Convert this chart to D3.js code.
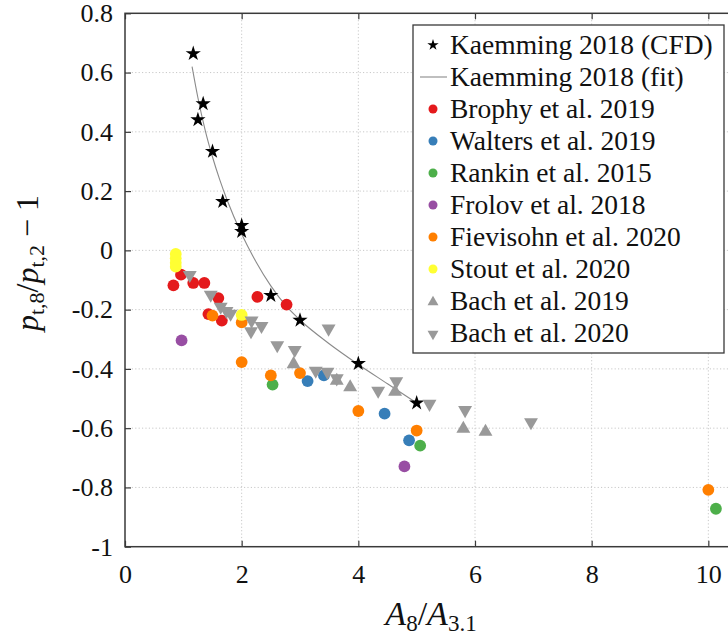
<!DOCTYPE html>
<html>
<head>
<meta charset="utf-8">
<script src="https://cdn.jsdelivr.net/npm/d3@7"></script>
<style>
  body { margin: 0; background: #fff; }
  svg { display: block; }
  text { font-family: "Liberation Serif", "DejaVu Serif", serif; fill: #111; }
</style>
</head>
<body>
<svg id="chart" width="728" height="638"></svg>
<script>
// Area ratio A8/A3.1 (x) against total-pressure ratio p_t,8/p_t,2 - 1 (y)

const xTicks = [0, 2, 4, 6, 8, 10];
const xTickLabels = ["0", "2", "4", "6", "8", "10"];
const yTicks = [-1, -0.8, -0.6, -0.4, -0.2, 0, 0.2, 0.4, 0.6, 0.8];
const yTickLabels = ["-1", "-0.8", "-0.6", "-0.4", "-0.2", "0", "0.2", "0.4", "0.6", "0.8"];

// Kaemming 2018 (CFD)
const kaemCfdX = [1.17, 1.25, 1.34, 1.50, 1.675, 2.0, 2.0, 2.5, 3.0, 4.0, 5.0];
const kaemCfdY = [0.664, 0.441, 0.495, 0.334, 0.165, 0.084, 0.064, -0.152, -0.236, -0.382, -0.515];

// Kaemming 2018 (fit)
const kaemFitX = [1.15, 1.25, 1.375, 1.5, 1.625, 1.75, 2.0, 2.25, 2.5, 2.75, 3.0, 3.5, 4.0, 4.5, 5.0];
const kaemFitY = [0.62, 0.515, 0.405, 0.315, 0.238, 0.17, 0.055, -0.04, -0.12, -0.185, -0.235, -0.315, -0.385, -0.45, -0.515];

const brophyX = [0.83, 0.96, 1.17, 1.36, 1.43, 1.60, 1.66, 2.27, 2.77];
const brophyY = [-0.118, -0.082, -0.110, -0.110, -0.215, -0.161, -0.237, -0.157, -0.183];

const waltersX = [3.13, 3.41, 4.45, 4.87];
const waltersY = [-0.441, -0.422, -0.551, -0.641];

const rankinX = [2.53, 5.06, 10.13];
const rankinY = [-0.453, -0.659, -0.872];

const frolovX = [0.97, 4.79];
const frolovY = [-0.304, -0.729];

const fievisohnX = [1.50, 2.0, 2.0, 2.5, 3.0, 4.0, 5.0, 10.0];
const fievisohnY = [-0.220, -0.243, -0.377, -0.422, -0.414, -0.542, -0.608, -0.808];

const stoutX = [0.87, 0.87, 0.87, 0.87, 2.0];
const stoutY = [-0.012, -0.027, -0.042, -0.055, -0.218];

const bach2019X = [2.89, 3.63, 3.86, 4.63, 5.80, 6.18];
const bach2019Y = [-0.384, -0.440, -0.462, -0.477, -0.602, -0.612];

const bach2020X = [1.11, 1.47, 1.64, 1.74, 1.81, 2.17, 2.34, 2.16, 2.61, 2.91, 3.49, 3.27, 3.47, 3.63, 4.34, 4.65, 5.22, 5.83, 6.96];
const bach2020Y = [-0.083, -0.150, -0.190, -0.205, -0.214, -0.237, -0.255, -0.273, -0.320, -0.336, -0.264, -0.406, -0.410, -0.432, -0.474, -0.442, -0.518, -0.539, -0.580];

const zip = (xs, ys) => xs.map((v, i) => [v, ys[i]]);

const svg = d3.select("#chart");
svg.append("rect").attr("width", 728).attr("height", 638).attr("fill", "#fff");

const plotLeft = 125, plotRight = 737.5, plotTop = 13.3, plotBottom = 546.7;
const x = d3.scaleLinear().domain([0, 10.5]).range([plotLeft, plotRight]);
const y = d3.scaleLinear().domain([-1, 0.8]).range([plotBottom, plotTop]);

// dotted grid
const grid = svg.append("g").attr("stroke", "#c8c8c8").attr("stroke-width", 1).attr("stroke-dasharray", "1.2,2.2");
grid.selectAll("line.gx").data(xTicks.filter(v => v > 0)).join("line")
  .attr("x1", d => x(d)).attr("x2", d => x(d)).attr("y1", plotTop).attr("y2", plotBottom);
grid.selectAll("line.gy").data(yTicks.filter(v => v > -1 && v < 0.8)).join("line")
  .attr("x1", plotLeft).attr("x2", plotRight).attr("y1", d => y(d)).attr("y2", d => y(d));

// fit curve
const line = d3.line().x(d => x(d[0])).y(d => y(d[1])).curve(d3.curveMonotoneX);
svg.append("path").datum(zip(kaemFitX, kaemFitY))
  .attr("d", line).attr("fill", "none").attr("stroke", "#8a8a8a").attr("stroke-width", 1.1);

const starSym = d3.symbol().type(d3.symbolStar).size(72);
const triSym = d3.symbol().type(d3.symbolTriangle).size(84);

const circleSeries = [
  { xs: brophyX, ys: brophyY, color: "#e41a1c" },
  { xs: waltersX, ys: waltersY, color: "#377eb8" },
  { xs: rankinX, ys: rankinY, color: "#4daf4a" },
  { xs: frolovX, ys: frolovY, color: "#984ea3" },
  { xs: fievisohnX, ys: fievisohnY, color: "#ff7f00" },
  { xs: stoutX, ys: stoutY, color: "#ffff33" }
];

// CFD stars
svg.append("g").selectAll("path").data(zip(kaemCfdX, kaemCfdY)).join("path")
  .attr("d", starSym).attr("fill", "#000")
  .attr("transform", d => `translate(${x(d[0])},${y(d[1])})`);

circleSeries.forEach(s => {
  svg.append("g").selectAll("circle").data(zip(s.xs, s.ys)).join("circle")
    .attr("cx", d => x(d[0])).attr("cy", d => y(d[1])).attr("r", 5.9)
    .attr("fill", s.color);
});

svg.append("g").selectAll("path").data(zip(bach2019X, bach2019Y)).join("path")
  .attr("d", triSym).attr("fill", "#999")
  .attr("transform", d => `translate(${x(d[0])},${y(d[1])})`);

svg.append("g").selectAll("path").data(zip(bach2020X, bach2020Y)).join("path")
  .attr("d", triSym).attr("fill", "#999")
  .attr("transform", d => `translate(${x(d[0])},${y(d[1])}) rotate(180)`);

// axes: inward ticks on all four sides, labels on left and bottom
const axisColor = "#3a3a3a";
const styleAxis = g => {
  g.attr("font-family", null).attr("font-size", null);
  g.select(".domain").remove();
  g.selectAll(".tick line").attr("stroke", axisColor).attr("stroke-width", 1.2);
  g.selectAll(".tick text").attr("font-size", 26).attr("fill", "#111");
};

svg.append("g").attr("transform", `translate(0,${plotBottom})`)
  .call(d3.axisBottom(x).tickValues(xTicks).tickFormat((d, i) => xTickLabels[i]).tickSizeInner(-6).tickSizeOuter(0).tickPadding(18))
  .call(styleAxis);
svg.append("g").attr("transform", `translate(0,${plotTop})`)
  .call(d3.axisTop(x).tickValues(xTicks).tickFormat("").tickSizeInner(-6).tickSizeOuter(0))
  .call(styleAxis);
svg.append("g").attr("transform", `translate(${plotLeft},0)`)
  .call(d3.axisLeft(y).tickValues(yTicks).tickFormat((d, i) => yTickLabels[i]).tickSizeInner(-6).tickSizeOuter(0).tickPadding(12))
  .call(styleAxis);
svg.append("g").attr("transform", `translate(${plotRight},0)`)
  .call(d3.axisRight(y).tickValues(yTicks).tickFormat("").tickSizeInner(-6).tickSizeOuter(0))
  .call(styleAxis);

// frame
svg.append("rect").attr("x", plotLeft).attr("y", plotTop).attr("width", plotRight - plotLeft).attr("height", plotBottom - plotTop)
  .attr("fill", "none").attr("stroke", axisColor).attr("stroke-width", 1.5);

// axis titles
const xt = svg.append("text").attr("x", 431).attr("y", 625).attr("text-anchor", "middle").attr("font-size", 34);
xt.append("tspan").attr("font-style", "italic").text("A");
xt.append("tspan").attr("font-size", 23).attr("dy", 6).text("8");
xt.append("tspan").attr("dy", -6).text("/");
xt.append("tspan").attr("font-style", "italic").text("A");
xt.append("tspan").attr("font-size", 23).attr("dy", 6).text("3.1");

const yt = svg.append("text").attr("transform", "translate(38,263) rotate(-90)")
  .attr("text-anchor", "middle").attr("font-size", 32);
yt.append("tspan").attr("font-style", "italic").text("p");
yt.append("tspan").attr("font-size", 22).attr("dy", 6).text("t,8");
yt.append("tspan").attr("dy", -6).text("/");
yt.append("tspan").attr("font-style", "italic").text("p");
yt.append("tspan").attr("font-size", 22).attr("dy", 6).text("t,2");
yt.append("tspan").attr("dy", -6).text(" \u2212 1");

// legend
const legendNames = ["Kaemming 2018 (CFD)", "Kaemming 2018 (fit)", "Brophy et al. 2019", "Walters et al. 2019",
  "Rankin et al. 2015", "Frolov et al. 2018", "Fievisohn et al. 2020", "Stout et al. 2020",
  "Bach et al. 2019", "Bach et al. 2020"];
const legendMarks = ["star", "line", "#e41a1c", "#377eb8", "#4daf4a", "#984ea3", "#ff7f00", "#ffff33", "up", "down"];

const lg = svg.append("g");
lg.append("rect").attr("x", 413).attr("y", 25).attr("width", 311).attr("height", 328)
  .attr("fill", "#fff").attr("stroke", axisColor).attr("stroke-width", 1.3);
const rowY = i => 45 + 32 * i;
const mx = 433;
legendNames.forEach((name, i) => {
  const m = legendMarks[i];
  const cy = rowY(i);
  if (m === "star") {
    lg.append("path").attr("d", d3.symbol().type(d3.symbolStar).size(40)).attr("fill", "#000")
      .attr("transform", `translate(${mx},${cy})`);
  } else if (m === "line") {
    lg.append("line").attr("x1", 420).attr("x2", 447).attr("y1", cy).attr("y2", cy)
      .attr("stroke", "#8a8a8a").attr("stroke-width", 1.1);
  } else if (m === "up" || m === "down") {
    lg.append("path").attr("d", d3.symbol().type(d3.symbolTriangle).size(52)).attr("fill", "#999")
      .attr("transform", `translate(${mx},${cy + 1}) rotate(${m === "down" ? 180 : 0})`);
  } else {
    lg.append("circle").attr("cx", mx).attr("cy", cy).attr("r", 4.5).attr("fill", m);
  }
  lg.append("text").attr("x", 450).attr("y", cy + 9).attr("font-size", 27.5).text(name);
});
</script>
</body>
</html>
